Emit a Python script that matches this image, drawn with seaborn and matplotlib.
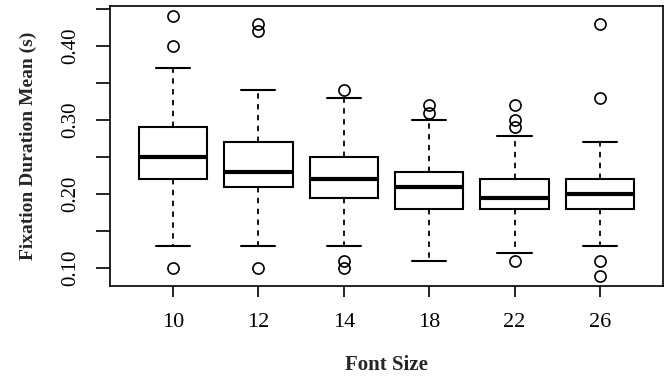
import matplotlib
matplotlib.use("Agg")
import matplotlib.pyplot as plt
import seaborn as sns
import pandas as pd

# estimated per-group samples, built so the box stats match the picture
font_sizes = ["10", "12", "14", "18", "22", "26"]
fs10 = [0.10, 0.13, 0.18, 0.22, 0.23, 0.24, 0.25, 0.26, 0.27, 0.29, 0.37, 0.40, 0.44]
fs12 = [0.10, 0.13, 0.17, 0.21, 0.22, 0.22, 0.23, 0.24, 0.25, 0.27, 0.34, 0.42, 0.43]
fs14 = [0.10, 0.11, 0.13, 0.195, 0.20, 0.21, 0.22, 0.23, 0.24, 0.25, 0.30, 0.33, 0.34]
fs18 = [0.11, 0.15, 0.17, 0.18, 0.19, 0.20, 0.21, 0.22, 0.22, 0.23, 0.30, 0.31, 0.32]
fs22 = [0.11, 0.121, 0.15, 0.17, 0.18, 0.185, 0.19, 0.19, 0.195, 0.20, 0.21, 0.215, 0.22,
        0.279, 0.29, 0.30, 0.32]
fs26 = [0.09, 0.11, 0.13, 0.18, 0.19, 0.19, 0.20, 0.21, 0.21, 0.22, 0.27, 0.33, 0.43]

ytick_values = [0.10, 0.15, 0.20, 0.25, 0.30, 0.35, 0.40, 0.45]
ytick_labels = ["0.10", "", "0.20", "", "0.30", "", "0.40", ""]

groups = [fs10, fs12, fs14, fs18, fs22, fs26]
rows = []
for name, vals in zip(font_sizes, groups):
    for v in vals:
        rows.append({"Font Size": name, "Fixation": v})
df = pd.DataFrame(rows)

sns.set_style("white")
plt.rcParams["font.family"] = ["Liberation Serif", "DejaVu Serif"]

fig = plt.figure(figsize=(6.7, 3.8), dpi=100)
ax = fig.add_axes([0.164, 0.247, 0.8256, 0.737])

sns.boxplot(data=df, x="Font Size", y="Fixation", order=font_sizes, ax=ax,
            color="white", linecolor="black", linewidth=1.5, width=0.8,
            boxprops=dict(facecolor="white", edgecolor="black", linewidth=1.5),
            medianprops=dict(color="black", linewidth=3),
            whiskerprops=dict(color="black", linestyle=(0, (3, 3)), linewidth=1.3),
            capprops=dict(color="black", linewidth=1.5),
            flierprops=dict(marker="o", markerfacecolor="none", markeredgecolor="black",
                            markersize=8, markeredgewidth=1.2))

ax.set_xlim(-0.74, 5.74)
ax.set_ylim(0.0757, 0.454)
ax.set_yticks(ytick_values)
ax.set_yticklabels(ytick_labels, rotation=90, va="center")
ax.tick_params(axis="y", direction="out", length=10, width=1.2, pad=11, labelsize=15,
               left=True, colors="black")
ax.tick_params(axis="x", direction="out", length=8, width=1.2, pad=11, labelsize=16,
               bottom=True, colors="black")
for s in ax.spines.values():
    s.set_visible(True)
    s.set_color("black")
    s.set_linewidth(1.2)

ax.set_xlabel("Font Size", fontsize=15, fontweight="bold", labelpad=17)
ax.set_ylabel("Fixation Duration Mean (s)", fontsize=14, fontweight="bold", labelpad=18)

fig.savefig("out.png", dpi=100)
